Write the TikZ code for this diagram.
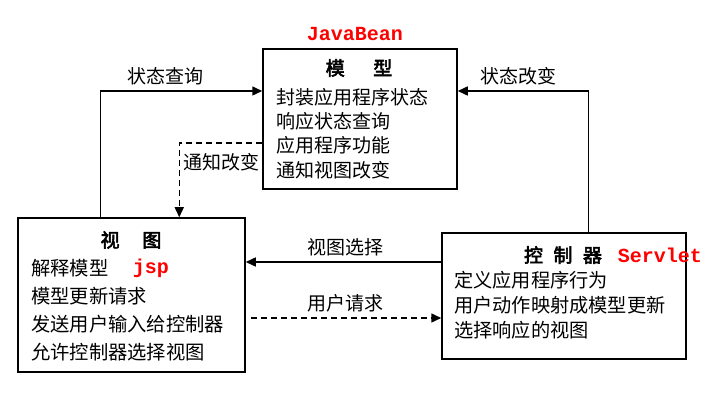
\documentclass[tikz,border=0pt]{standalone}
\usepackage{fontspec}
\setmainfont{Noto Sans CJK SC}
\newfontfamily\titlefont[FakeBold=3]{Noto Sans CJK SC}
\newfontfamily\tagfont{Liberation Mono}
\usetikzlibrary{arrows.meta}

\begin{document}
\begin{tikzpicture}[x=1pt,y=-1pt,
  box/.style={draw,line width=1.5pt,inner sep=0pt},
  boxtitle/.style={font=\titlefont\fontsize{19}{19}\selectfont,inner sep=0pt},
  boxtext/.style={align=left,anchor=west,inner sep=0pt},
  flowtext/.style={font=\fontsize{19}{19}\selectfont,inner sep=0pt},
  tag/.style={text=red,font=\tagfont\bfseries\fontsize{20}{20}\selectfont,inner sep=0pt},
  link/.style={line width=1.5pt,-{Triangle[length=10pt,width=9pt]}},
  hint/.style={link,dash pattern=on 6pt off 4pt},
]
\useasboundingbox (0,0) rectangle (713,417);

% the three boxes
\node [box,minimum width=194pt,minimum height=140pt] (model) at (360,119) {};
\node [box,minimum width=227pt,minimum height=154pt] (view) at (131.5,295) {};
\node [box,minimum width=244pt,minimum height=126pt] (ctrl) at (564,296) {};

\node [boxtitle] (modeltitle) at (359,68) {模\hspace{1.5em}型};
\node [boxtext,font=\fontsize{19}{24.4}\selectfont] (modeltext) at (276,133.5)
  {封装应用程序状态\\响应状态查询\\应用程序功能\\通知视图改变};
\node [boxtitle] (viewtitle) at (131,240) {视\hspace{1.2em}图};
\node [boxtext,font=\fontsize{19.3}{28}\selectfont] (viewtext) at (31,310)
  {解释模型\\模型更新请求\\发送用户输入给控制器\\允许控制器选择视图};
\node [boxtitle] (ctrltitle) at (563,255) {控\hspace{0.55em}制\hspace{0.55em}器};
\node [boxtext,font=\fontsize{19.2}{25}\selectfont] (ctrltext) at (454,305)
  {定义应用程序行为\\用户动作映射成模型更新\\选择响应的视图};

\node [tag] (bean) at (355,34) {JavaBean};
\node [tag] (jsp) at (151,268) {jsp};
\node [tag] (servlet) at (660,255) {Servlet};

% connectors
\draw [link] ([xshift=83pt]view.north west) |- ([yshift=28pt]model.west);
\draw [link] ([xshift=147pt]ctrl.north west) |- ([yshift=28pt]model.east);
\draw [hint] ([yshift=-24pt]model.west) -| ([xshift=162pt]view.north west);
\coordinate (choose) at ([yshift=34pt]ctrl.west);
\draw [link] (choose) -- (choose -| view.east);
\coordinate (request) at ([yshift=-22pt]ctrl.west);
\draw [hint] ([xshift=5pt]request -| view.east) -- (request);

\node [flowtext] (querylabel) at (165,76) {状态查询};
\node [flowtext] (changelabel) at (518,76) {状态改变};
\node [flowtext,anchor=west] (notifylabel) at (183,162) {通知改变};
\node [flowtext] (chooselabel) at (345,247) {视图选择};
\node [flowtext] (requestlabel) at (345,303) {用户请求};

\end{tikzpicture}
\end{document}
